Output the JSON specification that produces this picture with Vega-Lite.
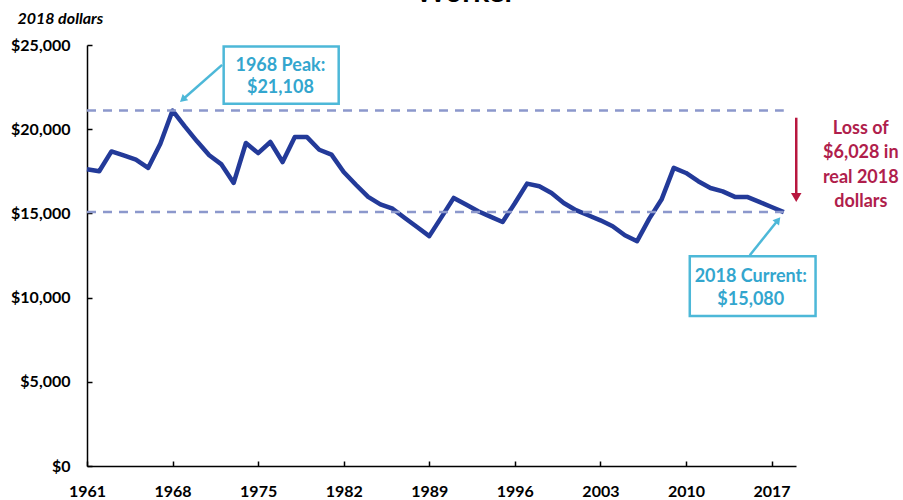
{
  "$schema": "https://vega.github.io/schema/vega-lite/v6.json",
  "autosize": {"type": "none"},
  "width": 709,
  "height": 421,
  "padding": {"left": 87, "top": 45, "right": 107, "bottom": 34},
  "background": "white",
  "title": {"text": "Worker", "font": "Lato", "fontSize": 30, "fontWeight": "bold", "color": "black", "anchor": "middle", "dx": 24, "dy": 2},
  "config": {
    "view": {"stroke": null},
    "axis": {"labelFont": "Lato", "labelFontWeight": "bold", "labelFontSize": 16, "labelColor": "black", "domainColor": "black", "domainWidth": 1.5, "tickColor": "black", "tickWidth": 1.5, "tickSize": -5, "grid": false, "labelPadding": 22, "labelFlush": false}
  },
  "datasets": {
    "wage": [
      {"year": 1961, "value": 17620}, {"year": 1962, "value": 17500}, {"year": 1963, "value": 18680}, {"year": 1964, "value": 18440},
      {"year": 1965, "value": 18190}, {"year": 1966, "value": 17700}, {"year": 1967, "value": 19140}, {"year": 1968, "value": 21108},
      {"year": 1969, "value": 20170}, {"year": 1970, "value": 19280}, {"year": 1971, "value": 18450}, {"year": 1972, "value": 17910},
      {"year": 1973, "value": 16810}, {"year": 1974, "value": 19180}, {"year": 1975, "value": 18580}, {"year": 1976, "value": 19240},
      {"year": 1977, "value": 18050}, {"year": 1978, "value": 19530}, {"year": 1979, "value": 19530}, {"year": 1980, "value": 18780},
      {"year": 1981, "value": 18490}, {"year": 1982, "value": 17460}, {"year": 1983, "value": 16700}, {"year": 1984, "value": 15980},
      {"year": 1985, "value": 15540}, {"year": 1986, "value": 15280}, {"year": 1987, "value": 14730}, {"year": 1988, "value": 14190},
      {"year": 1989, "value": 13650}, {"year": 1990, "value": 14780}, {"year": 1991, "value": 15920}, {"year": 1992, "value": 15530},
      {"year": 1993, "value": 15130}, {"year": 1994, "value": 14810}, {"year": 1995, "value": 14490}, {"year": 1996, "value": 15600},
      {"year": 1997, "value": 16770}, {"year": 1998, "value": 16610}, {"year": 1999, "value": 16210}, {"year": 2000, "value": 15620},
      {"year": 2001, "value": 15190}, {"year": 2002, "value": 14890}, {"year": 2003, "value": 14590}, {"year": 2004, "value": 14240},
      {"year": 2005, "value": 13700}, {"year": 2006, "value": 13350}, {"year": 2007, "value": 14690}, {"year": 2008, "value": 15820},
      {"year": 2009, "value": 17700}, {"year": 2010, "value": 17400}, {"year": 2011, "value": 16910}, {"year": 2012, "value": 16510},
      {"year": 2013, "value": 16310}, {"year": 2014, "value": 15980}, {"year": 2015, "value": 15980}, {"year": 2016, "value": 15680},
      {"year": 2017, "value": 15380}, {"year": 2018, "value": 15080}
    ],
    "refs": [
      {"year": 1961, "year2": 2018, "value": 21108},
      {"year": 1961, "year2": 2018, "value": 15080}
    ],
    "boxes": [
      {"year": 1972.18, "year2": 1981.59, "value": 24908, "value2": 21511},
      {"year": 2010.31, "year2": 2020.6, "value": 12460, "value2": 8903}
    ],
    "boxText": [
      {"year": 1976.82, "value": 23782, "label": "1968 Peak:"},
      {"year": 1976.82, "value": 22419, "label": "$21,108"},
      {"year": 2015.3, "value": 11233, "label": "2018 Current:"},
      {"year": 2015.3, "value": 9852, "label": "$15,080"}
    ],
    "pointers": [
      {"year": 1972.05, "value": 23823, "year2": 1968.83, "value2": 21760},
      {"year": 2015.22, "value": 12519, "year2": 2017.53, "value2": 14606}
    ],
    "headPeak": [{"year": 1968.83, "value": 21760}],
    "headCurrent": [{"year": 2017.53, "value": 14606}],
    "lossArrow": [{"year": 2019.02, "value": 20682, "value2": 16000}],
    "lossHead": [{"year": 2019.02, "value": 15940}],
    "lossText": [
      {"year": 2024.3, "value": 20030, "label": "Loss of"},
      {"year": 2024.3, "value": 18583, "label": "$6,028 in"},
      {"year": 2024.3, "value": 17101, "label": "real 2018"},
      {"year": 2024.3, "value": 15679, "label": "dollars"}
    ]
  },
  "layer": [
    {
      "data": {"name": "wage"},
      "mark": {"type": "line", "color": "#233A99", "strokeWidth": 4.5, "strokeJoin": "round"},
      "encoding": {
        "x": {"field": "year", "type": "quantitative", "scale": {"domain": [1961, 2019], "nice": false, "zero": false},
              "axis": {"title": null, "values": [1961, 1968, 1975, 1982, 1989, 1996, 2003, 2010, 2017], "format": "d"}},
        "y": {"field": "value", "type": "quantitative", "scale": {"domain": [0, 25000], "nice": false},
              "axis": {"title": "2018 dollars", "values": [0, 5000, 10000, 15000, 20000, 25000], "format": "$,.0f",
                       "titleAngle": 0, "titleX": -70, "titleY": -27, "titleAlign": "left", "titleBaseline": "middle",
                       "titleFont": "Lato", "titleFontSize": 16, "titleFontWeight": "bold", "titleFontStyle": "italic", "titleColor": "black"}}
      }
    },
    {
      "data": {"name": "refs"},
      "mark": {"type": "rule", "color": "#8C98CC", "strokeWidth": 2.5, "strokeDash": [9, 7]},
      "encoding": {
        "x": {"field": "year", "type": "quantitative"},
        "x2": {"field": "year2"},
        "y": {"field": "value", "type": "quantitative"}
      }
    },
    {
      "data": {"name": "boxes"},
      "mark": {"type": "rect", "fill": "white", "stroke": "#4DB8D8", "strokeWidth": 2.5},
      "encoding": {
        "x": {"field": "year", "type": "quantitative"},
        "x2": {"field": "year2"},
        "y": {"field": "value", "type": "quantitative"},
        "y2": {"field": "value2"}
      }
    },
    {
      "data": {"name": "boxText"},
      "mark": {"type": "text", "font": "Lato", "fontSize": 18, "fontWeight": "bold", "color": "#33A6CE", "align": "center", "baseline": "middle"},
      "encoding": {
        "x": {"field": "year", "type": "quantitative"},
        "y": {"field": "value", "type": "quantitative"},
        "text": {"field": "label"}
      }
    },
    {
      "data": {"name": "pointers"},
      "mark": {"type": "rule", "color": "#4DB8D8", "strokeWidth": 2.5},
      "encoding": {
        "x": {"field": "year", "type": "quantitative"},
        "y": {"field": "value", "type": "quantitative"},
        "x2": {"field": "year2"},
        "y2": {"field": "value2"}
      }
    },
    {
      "data": {"name": "headPeak"},
      "mark": {"type": "point", "shape": "triangle-up", "filled": true, "color": "#4DB8D8", "size": 70, "angle": 228.6, "opacity": 1},
      "encoding": {
        "x": {"field": "year", "type": "quantitative"},
        "y": {"field": "value", "type": "quantitative"}
      }
    },
    {
      "data": {"name": "headCurrent"},
      "mark": {"type": "point", "shape": "triangle-up", "filled": true, "color": "#4DB8D8", "size": 70, "angle": 38.7, "opacity": 1},
      "encoding": {
        "x": {"field": "year", "type": "quantitative"},
        "y": {"field": "value", "type": "quantitative"}
      }
    },
    {
      "data": {"name": "lossArrow"},
      "mark": {"type": "rule", "color": "#B8173F", "strokeWidth": 2.5},
      "encoding": {
        "x": {"field": "year", "type": "quantitative"},
        "y": {"field": "value", "type": "quantitative"},
        "y2": {"field": "value2"}
      }
    },
    {
      "data": {"name": "lossHead"},
      "mark": {"type": "point", "shape": "triangle-up", "filled": true, "color": "#B8173F", "size": 110, "angle": 180, "opacity": 1},
      "encoding": {
        "x": {"field": "year", "type": "quantitative"},
        "y": {"field": "value", "type": "quantitative"}
      }
    },
    {
      "data": {"name": "lossText"},
      "mark": {"type": "text", "font": "Lato", "fontSize": 18, "fontWeight": "bold", "color": "#B01E4C", "align": "center", "baseline": "middle"},
      "encoding": {
        "x": {"field": "year", "type": "quantitative"},
        "y": {"field": "value", "type": "quantitative"},
        "text": {"field": "label"}
      }
    }
  ]
}
